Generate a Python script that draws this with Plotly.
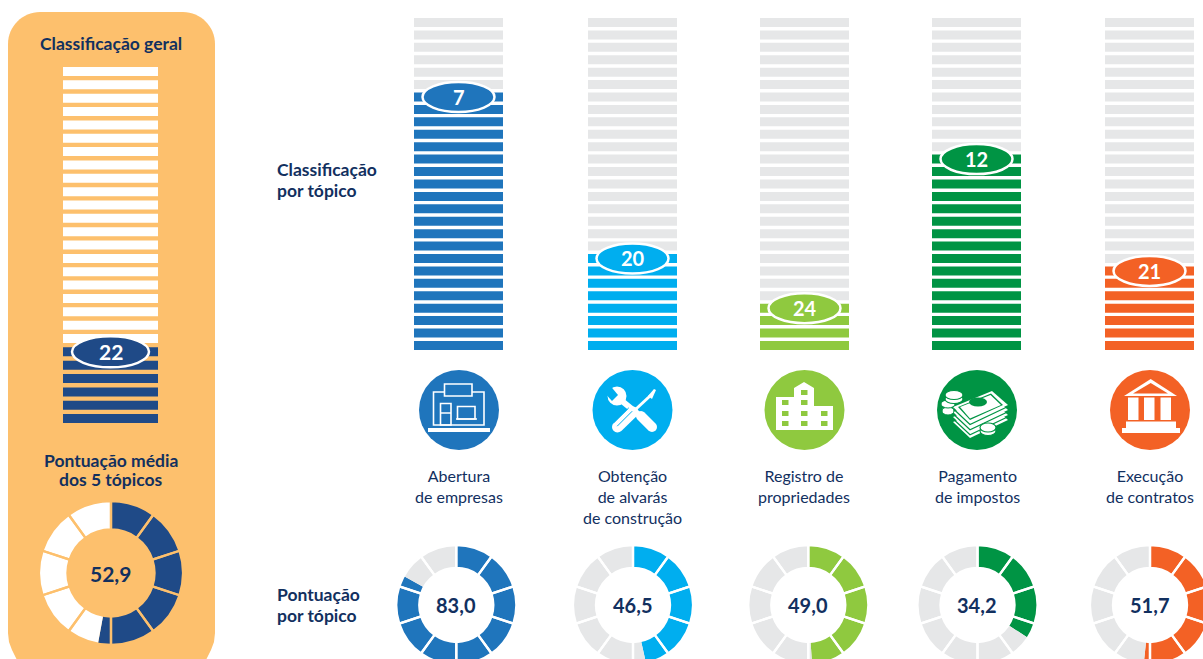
import math
import plotly.graph_objects as go

# ---------- data ----------
topics = ["Abertura<br>de empresas", "Obtenção<br>de alvarás<br>de construção",
          "Registro de<br>propriedades", "Pagamento<br>de impostos", "Execução<br>de contratos"]
topic_ranks = [7, 20, 24, 12, 21]
topic_scores = [83.0, 46.5, 49.0, 34.2, 51.7]
overall_rank = 22
overall_score = 52.9
n_ranks = 27
n_segments = 10

# ---------- style ----------
W, H = 1230, 690
NAVY = "#12305F"
DARK = "#1F4A87"
PANEL = "#FDC06D"
GRAY = "#E6E7E8"
colors = ["#1F75BC", "#00AEEF", "#8FC93F", "#009444", "#F36125"]
bar_left = [414, 588, 760, 932, 1105]
icon_cx = [459, 632.5, 804.5, 977, 1150]
donut_cx = [456.3, 633, 808.3, 977.5, 1150]
label_cx = [459, 632, 804, 977, 1150]
FONT = "Lato"

def fmt(v):
    return f"{v:.1f}".replace(".", ",")

def X(x): return x / W
def Y(y): return 1 - y / H

fig = go.Figure()
shapes, annotations = [], []

def path(points, close=True):
    s = "M " + " L ".join(f"{X(x):.5f},{Y(y):.5f}" for x, y in points)
    return s + (" Z" if close else "")

def poly(points, color):
    shapes.append(dict(type="path", xref="paper", yref="paper", path=path(points),
                       fillcolor=color, line=dict(width=0), layer="above"))

def rect(x0, y0, x1, y1, color):
    poly([(x0, y0), (x1, y0), (x1, y1), (x0, y1)], color)

def outline(x0, y0, x1, y1, color="white", width=1.6, fill="rgba(0,0,0,0)"):
    shapes.append(dict(type="rect", xref="paper", yref="paper", x0=X(x0), x1=X(x1), y0=Y(y0), y1=Y(y1),
                       fillcolor=fill, line=dict(color=color, width=width), layer="above"))

def ell(cx, cy, rx, ry, color, lc=None, lw=0):
    shapes.append(dict(type="circle", xref="paper", yref="paper", x0=X(cx-rx), x1=X(cx+rx),
                       y0=Y(cy+ry), y1=Y(cy-ry), fillcolor=color,
                       line=dict(color=lc or color, width=lw), layer="above"))

def line(pts, color="white", width=1.5):
    shapes.append(dict(type="path", xref="paper", yref="paper", path=path(pts, close=False),
                       line=dict(color=color, width=width), layer="above"))

def capsule(x0, y0, x1, y1, w, color="white"):
    a = math.atan2(y1-y0, x1-x0)
    pts = []
    for i in range(9):
        t = a + math.pi/2 + i*math.pi/8
        pts.append((x0 + w/2*math.cos(t), y0 + w/2*math.sin(t)))
    for i in range(9):
        t = a - math.pi/2 + i*math.pi/8
        pts.append((x1 + w/2*math.cos(t), y1 + w/2*math.sin(t)))
    poly(pts, color)

def note(x, y, text, size=16, bold=False, color=NAVY, align="center", xanchor="center", yanchor="middle"):
    annotations.append(dict(xref="paper", yref="paper", x=X(x), y=Y(y), text=f"<b>{text}</b>" if bold else text,
                            showarrow=False, align=align, xanchor=xanchor, yanchor=yanchor,
                            font=dict(family=FONT, size=size, color=color)))

# ---------- panel ----------
px0, py0, px1, py1, rad = 8, 12, 215, 690, 32
k = 0.45 * rad
shapes.append(dict(type="path", xref="paper", yref="paper", layer="below", fillcolor=PANEL, line=dict(width=0),
    path=(f"M {X(px0+rad)},{Y(py0)} L {X(px1-rad)},{Y(py0)} "
          f"C {X(px1-k)},{Y(py0)} {X(px1)},{Y(py0+k)} {X(px1)},{Y(py0+rad)} "
          f"L {X(px1)},{Y(py1)} L {X(px0)},{Y(py1)} L {X(px0)},{Y(py0+rad)} "
          f"C {X(px0)},{Y(py0+k)} {X(px0+k)},{Y(py0)} {X(px0+rad)},{Y(py0)} Z")))
# rounded lower corners of the panel show at the crop edge
shapes.append(dict(type="path", xref="paper", yref="paper", layer="below", fillcolor="white", line=dict(width=0),
    path=path([(8, 633), (9, 642), (12, 650), (17, 660), (8, 660)])))
shapes.append(dict(type="path", xref="paper", yref="paper", layer="below", fillcolor="white", line=dict(width=0),
    path=path([(215, 633), (214, 642), (211, 650), (206, 660), (215, 660)])))

# ---------- rank ladders ----------
def ladder(idx, left, right, top, pitch, rank, on, off, badge_w, badge_h, label_size):
    ax = "" if idx == 1 else str(idx)
    y0 = top + 4.5 - 0.5 * pitch
    y1 = y0 + n_ranks * pitch
    ranks = list(range(1, n_ranks + 1))
    fig.add_trace(go.Bar(orientation="h", y=ranks, x=[1] * n_ranks, width=9 / pitch,
                         marker=dict(color=[off if r < rank else on for r in ranks], line=dict(width=0)),
                         xaxis=f"x{ax}", yaxis=f"y{ax}", hoverinfo="skip", showlegend=False))
    fig.update_layout(**{
        f"xaxis{ax}": dict(domain=[X(left), X(right)], range=[0, 1], visible=False, fixedrange=True, anchor=f"y{ax}"),
        f"yaxis{ax}": dict(domain=[Y(y1), Y(y0)], range=[n_ranks + 0.5, 0.5], visible=False, fixedrange=True, anchor=f"x{ax}"),
    })
    bw = badge_w / (right - left)
    bh = badge_h / pitch
    shapes.append(dict(type="circle", xref=f"x{ax}", yref=f"y{ax}", x0=0.5 - bw/2, x1=0.5 + bw/2,
                       y0=rank - bh/2, y1=rank + bh/2, fillcolor=on,
                       line=dict(color="white", width=2.5), layer="above"))
    annotations.append(dict(xref=f"x{ax}", yref=f"y{ax}", x=0.5, y=rank, text=f"<b>{rank}</b>", showarrow=False,
                            font=dict(family=FONT, size=label_size, color="white")))

ladder(1, 63, 158, 67, 13.35, overall_rank, DARK, "white", 77, 31, 21)
for i, (left, r, c) in enumerate(zip(bar_left, topic_ranks, colors)):
    ladder(i + 2, left, left + 89, 18, 12.42, r, c, GRAY, 72, 30, 20)

# ---------- donuts ----------
def donut(cx, cy, r_out, r_in, score, on, off, sep, sep_w, size):
    dom = dict(x=[X(cx - r_out), X(cx + r_out)], y=[Y(cy + r_out), Y(cy - r_out)])
    fig.add_trace(go.Pie(values=[score, 100 - score], sort=False, direction="clockwise", rotation=0,
                         hole=r_in / r_out, domain=dom, textinfo="none", hoverinfo="skip", showlegend=False,
                         marker=dict(colors=[on, off], line=dict(width=0))))
    fig.add_trace(go.Pie(values=[1] * n_segments, sort=False, direction="clockwise", rotation=0,
                         hole=r_in / r_out, domain=dom, textinfo="none", hoverinfo="skip", showlegend=False,
                         marker=dict(colors=["rgba(0,0,0,0)"] * n_segments, line=dict(color=sep, width=sep_w))))
    note(cx - 0.7, cy, fmt(score), size=size, bold=True)

donut(111, 573, 72, 43.5, overall_score, DARK, "white", PANEL, 2.3, 21)
for cx, s, c in zip(donut_cx, topic_scores, colors):
    donut(cx, 605, 60, 37, s, c, GRAY, "white", 2.3, 20)

# ---------- labels ----------
TITLE = 17.5
note(110.5, 43.5, "Classificação geral", size=TITLE, bold=True)
note(110.5, 460.5, "Pontuação média", size=TITLE, bold=True)
note(110.5, 479.5, "dos 5 tópicos", size=TITLE, bold=True)
note(275, 169.5, "Classificação", size=TITLE, bold=True, align="left", xanchor="left")
note(275, 190.5, "por tópico", size=TITLE, bold=True, align="left", xanchor="left")
note(275, 594.5, "Pontuação", size=TITLE, bold=True, align="left", xanchor="left")
note(275, 615.5, "por tópico", size=TITLE, bold=True, align="left", xanchor="left")
for cx, t in zip(label_cx, topics):
    note(cx, 463.5, t, size=16, yanchor="top")

# ---------- icons ----------
for cx, c in zip(icon_cx, colors):
    ell(cx, 410, 40, 40, c)

# store
B = colors[0]
outline(433.5, 392, 484, 425)
outline(444.5, 384, 472, 396, fill=B)
outline(440.5, 403.5, 451, 425)
line([(440.5, 413), (451, 413)])
outline(457.5, 406.5, 475, 419)
line([(456, 419), (477, 419)])
rect(428, 428, 490, 432, "white")

# tools
Cy = colors[1]
ell(617, 396, 9.5, 9.5, "white")
poly([(608, 383), (618, 395), (612, 401), (602, 390)], Cy)
capsule(622, 401, 638, 414, 6)
capsule(641, 416, 652, 427, 10)
capsule(617.5, 427, 633, 412, 11)
capsule(636, 409, 650, 396, 3)
poly([(648, 396), (654, 389), (656, 390), (652, 399)], "white")
for o in (-2.2, 1.2):
    line([(616 + o, 425 + o), (631 + o, 410 + o)], Cy, 1)

# building
G = colors[2]
poly([(776, 397), (794, 397), (794, 388), (804, 382), (814, 388), (814, 406), (833, 406), (833, 430), (776, 430)], "white")
for wx, rows in ((782, (400, 411, 421)), (801, (390, 400, 411, 421)), (821, (411, 421))):
    for wy in rows:
        rect(wx, wy, wx + 6.5, wy + 5, G)

# money
D = colors[3]
for dy in (15, 10, 5):
    poly([(953, 407 + dy), (992, 391 + dy), (1008, 405 + dy), (970, 423 + dy)], "white")
    line([(953, 407 + dy + 1.8), (970, 423 + dy + 1.8), (1008, 405 + dy + 1.8)], D, 1.2)
poly([(953, 407), (992, 391), (1008, 405), (970, 423)], "white")
poly([(958, 407), (991, 393.5), (1003, 405), (970, 420)], D)
poly([(960, 407), (990.5, 395), (1001, 405), (970, 418.5)], "white")
ell(978, 402, 9, 4.5, D)
line([(953, 408.5), (970, 424.5), (1008, 406.5)], D, 1.2)
rect(944, 403, 952, 412, "white")
ell(948, 411, 6, 4, "white", D, 1)
ell(948, 404, 7, 4, "white", D, 1)
ell(954, 399, 9, 4.5, "white", D, 1.2)
ell(954, 395, 9, 4.5, "white", D, 1.2)
ell(988, 431, 8, 4.5, "white", D, 1.2)
ell(988, 427.5, 8, 4.5, "white", D, 1.2)

# bank
O = colors[4]
poly([(1150.7, 379), (1177, 396), (1124, 396)], "white")
poly([(1150.7, 383), (1168, 393.5), (1133, 393.5)], O)
for bx in (1128, 1144, 1160.5):
    rect(bx, 397.5, bx + 10.5, 420, "white")
rect(1126, 421.5, 1176, 428, "white")
rect(1122, 428, 1180, 433, "white")

fig.update_layout(width=W, height=H, margin=dict(l=0, r=0, t=0, b=0, pad=0), paper_bgcolor="white",
                  plot_bgcolor="rgba(0,0,0,0)", barmode="overlay", showlegend=False,
                  shapes=shapes, annotations=annotations)

post = ("document.body.style.margin='0';document.documentElement.style.overflow='hidden';"
        "document.body.style.overflow='hidden';")
fig.write_html("out.html", post_script=post, config=dict(displayModeBar=False, responsive=False))
